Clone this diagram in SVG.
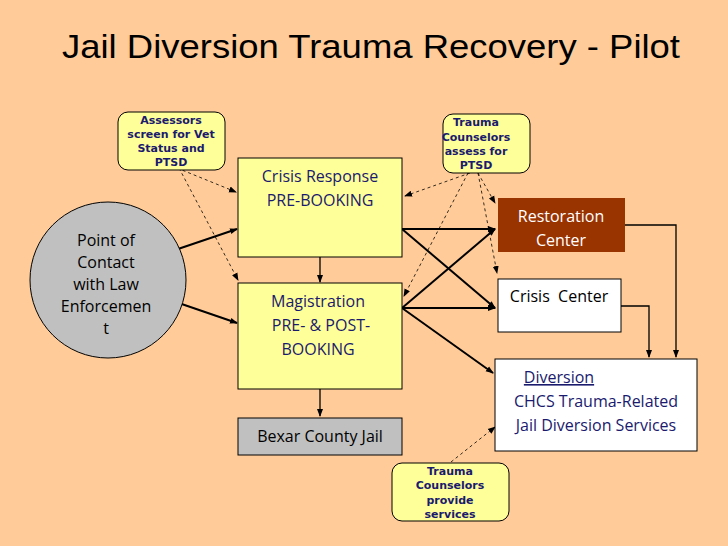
<svg xmlns="http://www.w3.org/2000/svg" width="728" height="546" viewBox="0 0 728 546">
<style>
.t{font-family:"Open Sans","DejaVu Sans",sans-serif;font-size:16px;text-anchor:middle}
.c{font-family:"DejaVu Sans",Verdana,sans-serif;font-size:11px;font-weight:bold;fill:#1a1a6e;text-anchor:middle}
.s{stroke:#000;stroke-width:2;fill:none;marker-end:url(#a)}
.th{stroke:#000;stroke-width:1.3;fill:none;marker-end:url(#a)}
.d{stroke:#000;stroke-width:0.8;stroke-dasharray:3 3;fill:none;marker-end:url(#a)}
.cb{fill:#ffff99;stroke:#000;stroke-width:1}
</style>
<defs><marker id="a" markerWidth="8" markerHeight="8" refX="7" refY="4" orient="auto" markerUnits="userSpaceOnUse"><path d="M0,1 L8,4 L0,7Z" fill="#000"/></marker></defs>
<rect width="728" height="546" fill="#ffcc99"/>
<text x="62" y="58" font-family="Liberation Sans, Arial, sans-serif" font-size="33" textLength="618" lengthAdjust="spacingAndGlyphs" fill="#000">Jail Diversion Trauma Recovery - Pilot</text>
<g id="connectors">
<path class="s" d="M178,249 L237,229"/>
<path class="s" d="M170,300 L237,323"/>
<path class="s" d="M402,229 L495,229"/>
<path class="s" d="M402,229 L495,308"/>
<path class="s" d="M402,308 L495,229"/>
<path class="s" d="M402,308 L495,308"/>
<path class="s" d="M402,308 L493,373"/>
<path class="th" d="M320,257 L320,282"/>
<path class="th" d="M320,389 L320,416"/>
<path class="th" d="M625,225 L676,225 L676,357"/>
<path class="th" d="M621,306 L649,306 L649,357"/>
<path class="d" d="M177,168 L236,192"/>
<path class="d" d="M179,168 L238,280"/>
<path class="d" d="M470,173 L405,196"/>
<path class="d" d="M468,173 L404,296"/>
<path class="d" d="M478,173 L495,203"/>
<path class="d" d="M478,173 L497,273"/>
<path class="d" d="M451,462 L495,427"/>
</g>
<g id="point"><circle cx="108" cy="280" r="78" fill="#c0c0c0" stroke="#000"/>
<text class="t" x="106"><tspan x="106" y="246">Point of</tspan><tspan x="106" y="268">Contact</tspan><tspan x="106" y="290">with Law</tspan><tspan x="106" y="312">Enforcemen</tspan><tspan x="106" y="334">t</tspan></text></g>
<g id="crisisResponse"><rect x="238" y="158" width="164" height="99" fill="#ffff99" stroke="#000"/>
<text class="t" fill="#1a1a6e" x="320"><tspan x="320" y="182">Crisis Response</tspan><tspan x="320" y="206">PRE-BOOKING</tspan></text></g>
<g id="magistration"><rect x="238" y="283" width="164" height="106" fill="#ffff99" stroke="#000"/>
<text class="t" fill="#1a1a6e" x="318"><tspan x="318" y="307">Magistration</tspan><tspan x="321" y="331">PRE- &amp; POST-</tspan><tspan x="318" y="355">BOOKING</tspan></text></g>
<g id="jail"><rect x="238" y="418" width="164" height="37" fill="#c0c0c0" stroke="#000"/>
<text class="t" x="320" y="442">Bexar County Jail</text></g>
<g id="restoration"><rect x="498" y="198" width="127" height="54" fill="#993300"/>
<text class="t" fill="#fff" x="561"><tspan x="561" y="222">Restoration</tspan><tspan x="561" y="246">Center</tspan></text></g>
<g id="crisisCenter"><rect x="498" y="279" width="123" height="53" fill="#fff" stroke="#000"/>
<text class="t" x="559" y="302" xml:space="preserve">Crisis  Center</text></g>
<g id="diversion"><rect x="495" y="359" width="202" height="92" fill="#fff" stroke="#000"/>
<text class="t" fill="#1a1a6e" x="559" y="383" text-decoration="underline">Diversion</text>
<text class="t" fill="#1a1a6e" x="596" y="407">CHCS Trauma-Related</text>
<text class="t" fill="#1a1a6e" x="596" y="431">Jail Diversion Services</text></g>
<g id="assessors"><rect class="cb" x="118" y="112" width="107" height="58" rx="10"/>
<text class="c"><tspan x="171" y="124">Assessors</tspan><tspan x="171" y="138">screen for Vet</tspan><tspan x="171" y="152">Status and</tspan><tspan x="171" y="166">PTSD</tspan></text></g>
<g id="traumaAssess"><rect class="cb" x="443" y="114" width="87" height="59" rx="10"/>
<text class="c"><tspan x="476" y="126">Trauma</tspan><tspan x="476" y="141">Counselors</tspan><tspan x="476" y="155">assess for</tspan><tspan x="476" y="169">PTSD</tspan></text></g>
<g id="traumaProvide"><rect class="cb" x="392" y="463" width="117" height="58" rx="10"/>
<text class="c"><tspan x="450" y="475">Trauma</tspan><tspan x="450" y="489">Counselors</tspan><tspan x="450" y="504">provide</tspan><tspan x="450" y="518">services</tspan></text></g>
</svg>
